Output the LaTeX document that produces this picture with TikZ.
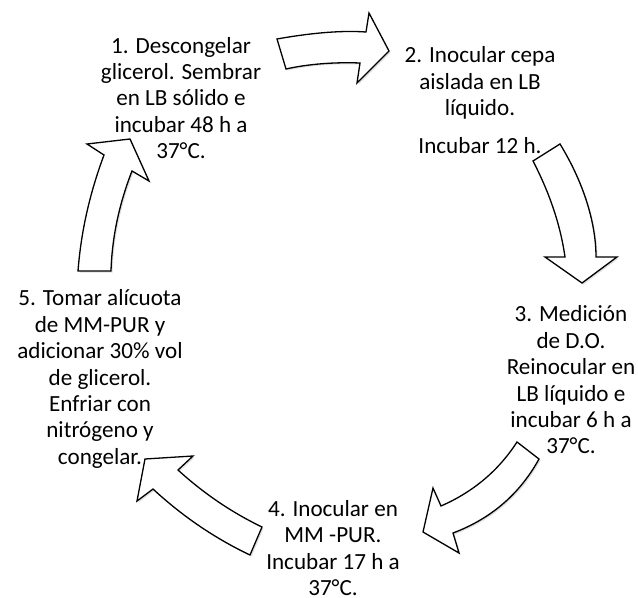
\documentclass[tikz,border=0pt]{standalone}
\usepackage{fontspec}
\setmainfont{Carlito}
\usetikzlibrary{shadows}
\tikzset{
  cyclearrow/.style={draw=black, line width=1.3bp, fill=white, line join=miter,
    drop shadow={shadow xshift=1.5bp, shadow yshift=-1.5bp, opacity=0.25, fill=black!50}},
  steptext/.style={align=center, font=\fontsize{23.2}{26.5}\selectfont, inner sep=0pt}
}
\begin{document}
\begin{tikzpicture}[x=1bp,y=-1bp]
\useasboundingbox[fill=white] (0,0) rectangle (638,598);
% arrow 1 -> 2
\draw[cyclearrow] (277,39) .. controls (305,34) and (338,30) .. (366,32) -- (369,13) -- (389,51) -- (357,83) -- (360,63) .. controls (335,62) and (308,64) .. (286,69) -- cycle;
% arrow 2 -> 3
\draw[cyclearrow] (533,161) -- (560,144) .. controls (585,185) and (596,225) .. (596,257) -- (617,257) -- (582,283) -- (545,257) -- (565,257) .. controls (560,222) and (548,190) .. (533,161) -- cycle;
% arrow 3 -> 4
\draw[cyclearrow] (517,442) -- (539,459) .. controls (519.7,494) and (491,518.7) .. (453,533) -- (459,553) -- (423,532) -- (433,488) -- (441,506) .. controls (473,492) and (498.5,470.7) .. (517,442) -- cycle;
% arrow 4 -> 5
\draw[cyclearrow] (145,459) -- (193,456) -- (178,470) .. controls (203.8,493.5) and (231.8,512.5) .. (262,527) -- (250,555) .. controls (214.9,538.3) and (182.5,516.3) .. (153,489) -- (137,501) -- cycle;
% arrow 5 -> 1
\draw[cyclearrow] (78,271) -- (111,271) .. controls (112,237.7) and (119,204.3) .. (132,171) -- (149,181) -- (130,139) -- (87,144) -- (104,155) .. controls (89.5,194) and (81,232) .. (78,271) -- cycle;
% texts
\node[steptext] (s1) at (181,98) {1. Descongelar\\glicerol. Sembrar\\en LB sólido e\\incubar 48 h a\\37°C.};
\node[steptext] (s2) at (480,100) {2. Inocular cepa\\aislada en LB\\líquido.\\[11bp]Incubar 12 h.};
\node[steptext] (s3) at (571,380) {3. Medición\\de D.O.\\Reinocular en\\LB líquido e\\incubar 6 h a\\37°C.};
\node[steptext] (s4) at (333,548) {4. Inocular en\\MM -PUR.\\Incubar 17 h a\\37°C.};
\node[steptext] (s5) at (100,379) {5. Tomar alícuota\\de MM-PUR y\\adicionar 30\% vol\\de glicerol.\\Enfriar con\\nitrógeno y\\congelar.};
\end{tikzpicture}
\end{document}
